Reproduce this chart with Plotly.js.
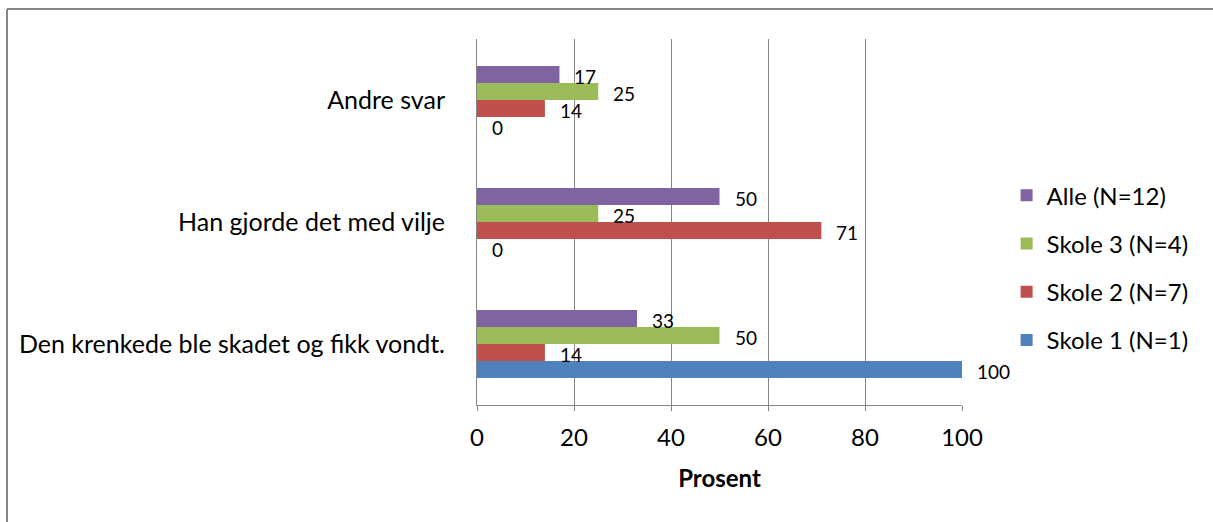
<!DOCTYPE html>
<html>
<head>
<meta charset="utf-8">
<script src="https://cdn.plot.ly/plotly-3.0.1.min.js"></script>
<style>
  html, body { margin: 0; padding: 0; background: #fff; }
  #chart { width: 1213px; height: 522px; }
</style>
</head>
<body>
<div id="chart"></div>
<script>
// Categories (bottom to top)
const categories = [
  "Den krenkede ble skadet og fikk vondt.",
  "Han gjorde det med vilje",
  "Andre svar"
];
// Series names
const seriesNames = ["Skole 1 (N=1)", "Skole 2 (N=7)", "Skole 3 (N=4)", "Alle (N=12)"];
// Series values (percent), same order as categories
const skole1 = [100, 0, 0];
const skole2 = [14, 71, 14];
const skole3 = [50, 25, 25];
const alle   = [33, 50, 17];
const xTicks = [0, 20, 40, 60, 80, 100];

const seriesValues = [skole1, skole2, skole3, alle];
const colors = ["#4F81BD", "#C0504D", "#9BBB59", "#8064A2"];
const FONT = "Lato, 'Open Sans', sans-serif";

const traces = seriesValues.map((vals, i) => ({
  type: "bar",
  orientation: "h",
  name: seriesNames[i],
  legendgroup: "g" + i,
  legendrank: 10 - i,
  x: vals,
  y: categories,
  marker: { color: colors[i] },
  hoverinfo: "x+name"
}));

// data labels as annotations, vertical offset per series within group
const yOffsets = [-27, -10, 7, 24];
const annotations = [];
seriesValues.forEach((vals, i) => {
  vals.forEach((v, j) => {
    annotations.push({
      x: v, y: categories[j], xref: "x", yref: "y",
      text: String(v), showarrow: false,
      xanchor: "left", yanchor: "middle",
      xshift: 13, yshift: yOffsets[i],
      font: { family: FONT, size: 19, color: "#000" }
    });
  });
});

const layout = {
  width: 1213, height: 522,
  margin: { l: 477, r: 251, t: 39, b: 117 },
  paper_bgcolor: "#fff", plot_bgcolor: "#fff",
  font: { family: FONT, color: "#000" },
  barmode: "group",
  bargap: 0.443,
  bargroupgap: 0,
  showlegend: true,
  legend: {
    x: 1.092, xanchor: "left",
    y: 0.375, yanchor: "middle",
    traceorder: "grouped",
    tracegroupgap: 14,
    font: { family: FONT, size: 24, color: "#000" },
    itemclick: false, itemdoubleclick: false
  },
  xaxis: {
    range: [0, 100],
    tickvals: xTicks,
    ticktext: xTicks.map(String),
    showgrid: true, gridcolor: "#868686", gridwidth: 1,
    zeroline: false,
    showline: true, linecolor: "#868686", linewidth: 1,
    ticks: "outside", ticklen: 5, tickcolor: "#868686",
    ticklabelstandoff: 6,
    tickfont: { family: FONT, size: 24, color: "#000" },
    title: { text: "<b>Prosent</b>", font: { family: FONT, size: 24, color: "#000" }, standoff: 20 },
    fixedrange: true
  },
  yaxis: {
    type: "category",
    categoryorder: "array",
    categoryarray: categories,
    showgrid: false, zeroline: false,
    showline: true, linecolor: "#868686", linewidth: 1,
    ticks: "",
    ticklabelstandoff: 26,
    tickfont: { family: FONT, size: 25, color: "#000" },
    fixedrange: true
  },
  annotations: annotations,
  shapes: [
    { type: "line", xref: "paper", yref: "paper",
      x0: (7 - 477) / 485, x1: (1230 - 477) / 485,
      y0: (405 - 9) / 366, y1: (405 - 9) / 366,
      line: { color: "#868686", width: 2 } },
    { type: "line", xref: "paper", yref: "paper",
      x0: (7 - 477) / 485, x1: (7 - 477) / 485,
      y0: (405 - 9) / 366, y1: (405 - 540) / 366,
      line: { color: "#868686", width: 2 } }
  ]
};

Plotly.newPlot("chart", traces, layout, { displayModeBar: false, staticPlot: false, responsive: false });
</script>
</body>
</html>
